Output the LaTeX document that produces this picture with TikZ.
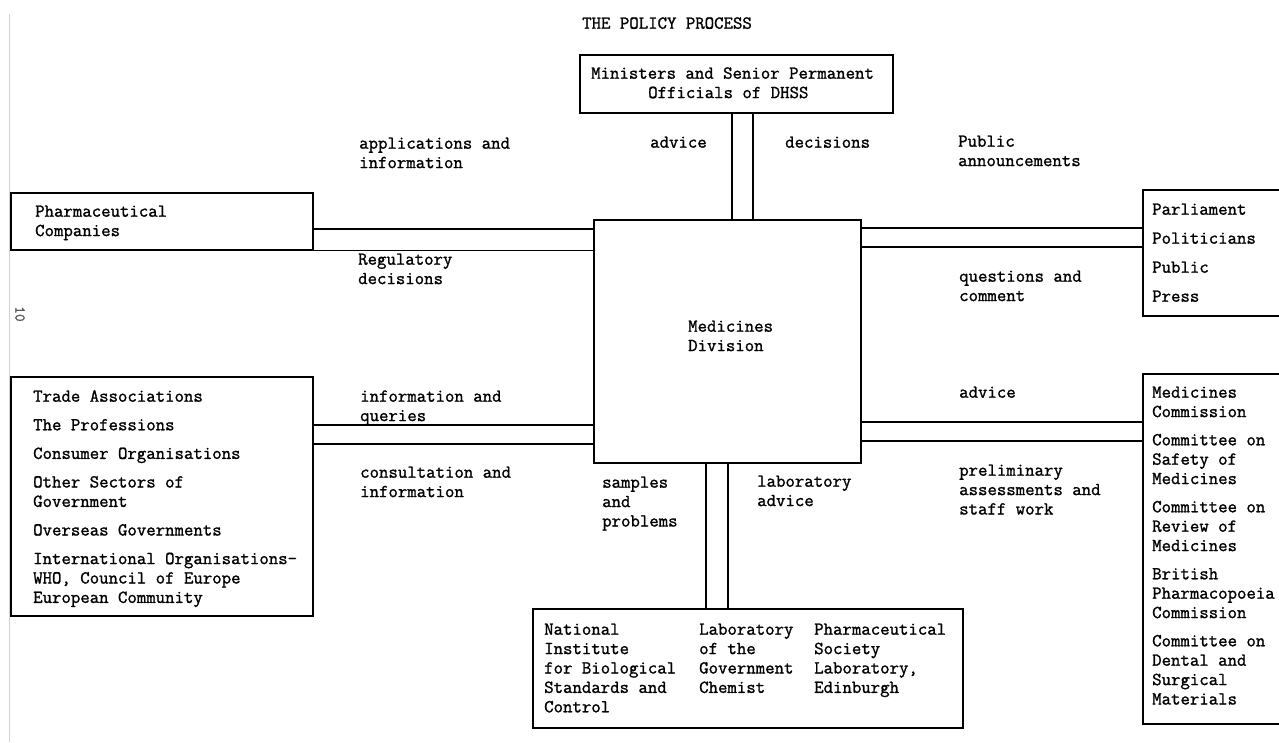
\documentclass[tikz,border=0pt]{standalone}
\usepackage{fontspec}
\newfontfamily\tw[FakeBold=1.3]{Latin Modern Mono}
\newcommand\st{\rule{0pt}{12pt}}
\begin{document}
\begin{tikzpicture}[x=1pt,y=-1pt,
  box/.style={draw, line width=1.6pt, inner sep=0pt, anchor=north west},
  link/.style={line width=1.4pt},
  txt/.style={font=\tw\fontsize{18.3}{19.4}\selectfont, inner sep=0pt, align=left, anchor=north west},
]
\useasboundingbox (0,0) rectangle (1279,742);
\draw[gray!35, line width=0.8pt] (9,14) -- (9,742);

% boxes
\node[box, minimum width=313pt, minimum height=58pt] (min) at (579,54) {};
\node[box, minimum width=267pt, minimum height=243pt] (med) at (593,219) {};
\node[box, minimum width=302pt, minimum height=57pt] (pharma) at (10,192) {};
\node[box, minimum width=302pt, minimum height=239pt] (trade) at (10,376) {};
\node[box, minimum width=170pt, minimum height=126pt] (parl) at (1142,189) {};
\node[box, minimum width=170pt, minimum height=350pt] (comm) at (1142,373) {};
\node[box, minimum width=430pt, minimum height=119pt] (lab) at (532,608) {};

% connectors
\draw[link] (732,0 |- min.south) -- (732,0 |- med.north);
\draw[link] (753,0 |- min.south) -- (753,0 |- med.north);
\draw[link] (pharma.east |- 0,229) -- (med.west |- 0,229);
\draw[link] (pharma.south east) -- (med.west |- pharma.south east);
\draw[link] (med.east |- 0,228) -- (parl.west |- 0,228);
\draw[link] (med.east |- 0,247) -- (parl.west |- 0,247);
\draw[link] (trade.east |- 0,425) -- (med.west |- 0,425);
\draw[link] (trade.east |- 0,444) -- (med.west |- 0,444);
\draw[link] (med.east |- 0,422) -- (comm.west |- 0,422);
\draw[link] (med.east |- 0,441) -- (comm.west |- 0,441);
\draw[link] (706,0 |- med.south) -- (706,0 |- lab.north);
\draw[link] (728,0 |- med.south) -- (728,0 |- lab.north);

% texts
\node[txt] (title) at (582,16.5) {\st THE POLICY PROCESS};
\node[txt] (mintxt) at (591,66.5) {\st Ministers and Senior Permanent\\\hspace*{57pt}Officials of DHSS};
\node[txt] (medtxt) at (688,319.5) {\st Medicines\\Division};
\node[txt] (l1) at (359,136.5) {\st applications and\\information};
\node[txt] (l2) at (650,135.5) {\st advice};
\node[txt] (l3) at (785,135.5) {\st decisions};
\node[txt] (l4) at (958,134.5) {\st Public\\announcements};
\node[txt] (phtxt) at (35,204.5) {\st Pharmaceutical\\Companies};
\node[txt] (l5) at (358,252.5) {\st Regulatory\\decisions};
\node[txt] (partxt) at (1152,202.5) {\st Parliament\\[9.6pt]Politicians\\[9.6pt]Public\\[9.6pt]Press};
\node[txt] (l6) at (959,269.5) {\st questions and\\comment};
\node[txt] (trtxt) at (33,389.5) {\st Trade Associations\\[9.2pt]The Professions\\[9.2pt]Consumer Organisations\\[9.2pt]Other Sectors of\\Government\\[9.2pt]Overseas Governments\\[9.2pt]International Organisations-\\WHO, Council of Europe\\European Community};
\node[txt] (l7) at (360,389.5) {\st information and\\queries};
\node[txt] (l8) at (360,465.5) {\st consultation and\\information};
\node[txt] (l9) at (959,385.5) {\st advice};
\node[txt] (l10) at (959,463.5) {\st preliminary\\assessments and\\staff work};
\node[txt] (comtxt) at (1152,385.5) {\st Medicines\\Commission\\[8.8pt]Committee on\\Safety of\\Medicines\\[8.8pt]Committee on\\Review of\\Medicines\\[8.8pt]British\\Pharmacopoeia\\Commission\\[8.8pt]Committee on\\Dental and\\Surgical\\Materials};
\node[txt] (l11) at (602,475.5) {\st samples\\and\\problems};
\node[txt] (l12) at (757,474.5) {\st laboratory\\advice};
\node[txt] (lab1) at (544,622.5) {\st National\\Institute\\for Biological\\Standards and\\Control};
\node[txt] (lab2) at (699,622.5) {\st Laboratory\\of the\\Government\\Chemist};
\node[txt] (lab3) at (814,622.5) {\st Pharmaceutical\\Society\\Laboratory,\\Edinburgh};
\node[font=\tw\fontsize{15}{16}\selectfont, text=black!65, rotate=-90, inner sep=0pt] (pg) at (20,314) {10};
\end{tikzpicture}
\end{document}
